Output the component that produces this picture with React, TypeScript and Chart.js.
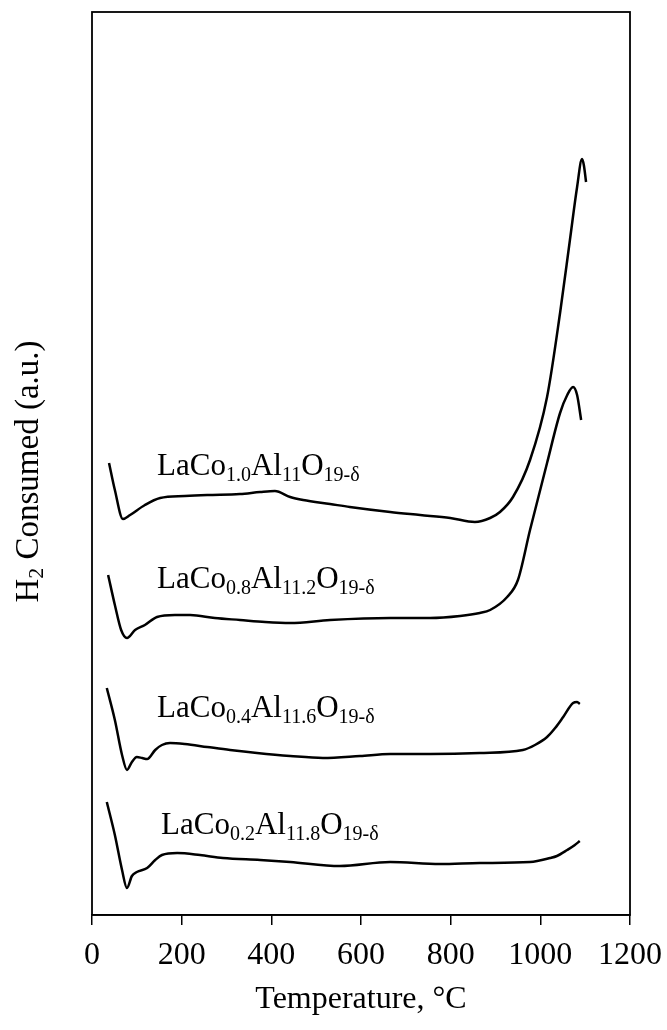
import React, { useEffect, useRef } from 'react';
import { Chart, registerables } from 'chart.js';

Chart.register(...registerables);

// Temperature (°C) and H2 consumption (a.u.)
const T_CO10 = [38, 51, 69, 85, 118, 152, 207, 257, 330, 375, 408, 442, 471, 531, 575, 665, 732, 799, 854, 888, 910, 939, 977, 1015, 1044, 1066, 1082, 1093, 1097, 1102];
const H_CO10 = [452, 425, 396, 400, 410, 417, 419, 420, 421, 423, 424, 418, 415, 411, 408, 403, 400, 397, 393, 397, 403, 418, 455, 518, 602, 675, 728, 756, 750, 733];

const T_CO08 = [36, 51, 65, 78, 96, 118, 145, 185, 219, 274, 330, 386, 442, 531, 665, 754, 821, 865, 888, 926, 950, 977, 1015, 1044, 1060, 1073, 1082, 1091];
const H_CO08 = [340, 310, 285, 277, 285, 290, 298, 300, 300, 297, 295, 293, 292, 295, 297, 297, 299, 302, 305, 318, 335, 385, 452, 502, 520, 528, 520, 495];

const T_CO04 = [33, 51, 67, 78, 89, 100, 112, 123, 141, 156, 174, 207, 257, 308, 368, 442, 515, 598, 665, 754, 865, 961, 988, 1015, 1033, 1051, 1073, 1082, 1088];
const H_CO04 = [227, 195, 160, 145, 153, 158, 157, 156, 165, 170, 172, 171, 168, 165, 162, 159, 157, 159, 161, 161, 162, 165, 170, 178, 187, 198, 212, 213, 211];

const T_CO02 = [33, 51, 67, 78, 89, 100, 123, 141, 156, 190, 241, 292, 375, 442, 553, 665, 776, 865, 977, 1022, 1037, 1060, 1077, 1088];
const H_CO02 = [113, 80, 45, 27, 39, 43, 47, 55, 60, 62, 60, 57, 55, 53, 49, 53, 51, 52, 53, 57, 59, 65, 70, 74];

const X_MIN = 0;
const X_MAX = 1200;
const X_STEP = 200;
const Y_MIN = 0;
const Y_MAX = 903;

// Series labels: [text, isSubscript]
const LABEL_CO10: [string, boolean][] = [['LaCo', false], ['1.0', true], ['Al', false], ['11', true], ['O', false], ['19-δ', true]];
const LABEL_CO08: [string, boolean][] = [['LaCo', false], ['0.8', true], ['Al', false], ['11.2', true], ['O', false], ['19-δ', true]];
const LABEL_CO04: [string, boolean][] = [['LaCo', false], ['0.4', true], ['Al', false], ['11.6', true], ['O', false], ['19-δ', true]];
const LABEL_CO02: [string, boolean][] = [['LaCo', false], ['0.2', true], ['Al', false], ['11.8', true], ['O', false], ['19-δ', true]];
const LABELS = [LABEL_CO10, LABEL_CO08, LABEL_CO04, LABEL_CO02];
const LABEL_T = [145, 145, 145, 154];
const LABEL_H = [440, 327, 198, 81];

const X_TITLE = 'Temperature, °C';
const Y_TITLE: [string, boolean][] = [['H', false], ['2', true], [' Consumed (a.u.)', false]];

const FONT = '"Liberation Serif", "Times New Roman", serif';

function drawRich(ctx: CanvasRenderingContext2D, parts: [string, boolean][], x: number, y: number, main: number, sub: number, drop: number) {
  let cx = x;
  for (const [t, isSub] of parts) {
    ctx.font = `${isSub ? sub : main}px ${FONT}`;
    ctx.fillText(t, cx, isSub ? y + drop : y);
    cx += ctx.measureText(t).width;
  }
}

function richWidth(ctx: CanvasRenderingContext2D, parts: [string, boolean][], main: number, sub: number) {
  let w = 0;
  for (const [t, isSub] of parts) {
    ctx.font = `${isSub ? sub : main}px ${FONT}`;
    w += ctx.measureText(t).width;
  }
  return w;
}

const decorPlugin = {
  id: 'decor',
  afterDraw(chart: any) {
    const { ctx, chartArea, scales } = chart;
    ctx.save();
    // frame
    ctx.strokeStyle = '#000';
    ctx.lineWidth = 1.8;
    ctx.strokeRect(chartArea.left, chartArea.top, chartArea.right - chartArea.left, chartArea.bottom - chartArea.top);
    // series labels
    ctx.fillStyle = '#000';
    ctx.textBaseline = 'alphabetic';
    ctx.textAlign = 'left';
    LABELS.forEach((parts, i) => {
      const x = scales.x.getPixelForValue(LABEL_T[i]);
      const y = scales.y.getPixelForValue(LABEL_H[i]);
      drawRich(ctx, parts, x, y, 31, 20, 6);
    });
    // y title
    const cy = (chartArea.top + chartArea.bottom) / 2 + 8;
    ctx.translate(38, cy);
    ctx.rotate(-Math.PI / 2);
    const w = richWidth(ctx, Y_TITLE, 33, 22);
    drawRich(ctx, Y_TITLE, -w / 2, 0, 33, 22, 5);
    ctx.restore();
  },
};

export default function App() {
  const ref = useRef<HTMLCanvasElement | null>(null);
  useEffect(() => {
    if (!ref.current) return;
    const mk = (xs: number[], ys: number[]) => xs.map((x, i) => ({ x, y: ys[i] }));
    const ds = (xs: number[], ys: number[]) => ({
      data: mk(xs, ys),
      borderColor: '#000',
      borderWidth: 2.5,
      pointRadius: 0,
      fill: false,
      cubicInterpolationMode: 'monotone' as const,
    });
    const chart = new Chart(ref.current, {
      type: 'line',
      data: {
        datasets: [ds(T_CO10, H_CO10), ds(T_CO08, H_CO08), ds(T_CO04, H_CO04), ds(T_CO02, H_CO02)],
      },
      options: {
        animation: false,
        responsive: false,
        layout: { padding: { left: 92, right: 37, top: 12, bottom: 9 } },
        plugins: { legend: { display: false }, tooltip: { enabled: false } },
        scales: {
          x: {
            type: 'linear',
            min: X_MIN,
            max: X_MAX,
            afterFit: (scale: any) => {
              scale.paddingLeft = 0;
              scale.paddingRight = 0;
              scale.height = 106;
            },
            ticks: {
              stepSize: X_STEP,
              color: '#000',
              font: { family: FONT, size: 32 },
              padding: 11,
              maxRotation: 0,
              callback: (v: any) => String(v),
            },
            grid: { display: true, drawOnChartArea: false, drawTicks: true, tickLength: 10, color: '#000', lineWidth: 1.5 },
            border: { display: true, color: '#000', width: 1.5 },
            title: { display: true, text: X_TITLE, color: '#000', font: { family: FONT, size: 32 }, padding: { top: 6, bottom: 2 } },
          },
          y: { display: false, min: Y_MIN, max: Y_MAX },
        },
      },
      plugins: [decorPlugin],
    });
    return () => chart.destroy();
  }, []);
  return (
    <div style={{ position: 'absolute', left: 0, top: 0, width: 667, height: 1030, background: '#fff' }}>
      <canvas ref={ref} width={667} height={1030} style={{ display: 'block' }} />
    </div>
  );
}
